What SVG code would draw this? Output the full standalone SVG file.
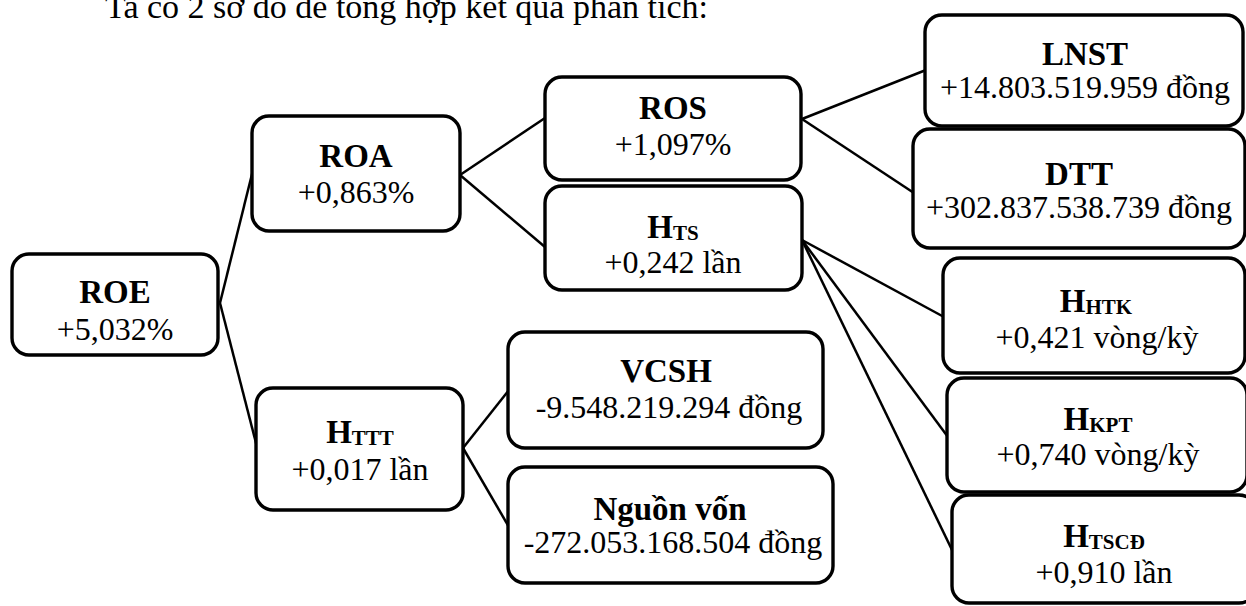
<svg xmlns="http://www.w3.org/2000/svg" width="1246" height="606" viewBox="0 0 1246 606">
<style>
.box{fill:#fff;stroke:#000;stroke-width:3.4}
.t{text-anchor:middle;fill:#000}
.h{font-size:33px;font-weight:bold}
.v{font-size:32px}
.s{font-size:21px}
.c{stroke:#000;stroke-width:2.5;fill:none}
.intro{font-size:34px;fill:#000}
</style>
<rect width="1246" height="606" fill="#fff"/>
<g font-family="'Liberation Serif', Tinos, 'Times New Roman', Times, 'DejaVu Serif', serif">
<text class="intro" x="105" y="18">Ta có 2 sơ đồ để tổng hợp kết quả phân tích:</text>
<g id="connectors">
<line class="c" x1="220" y1="303" x2="253" y2="170"/>
<line class="c" x1="220" y1="303" x2="257" y2="447"/>
<line class="c" x1="460" y1="175" x2="545" y2="118"/>
<line class="c" x1="460" y1="175" x2="545" y2="247"/>
<line class="c" x1="802" y1="119" x2="926" y2="70"/>
<line class="c" x1="802" y1="119" x2="914" y2="193"/>
<line class="c" x1="802" y1="240" x2="944" y2="317"/>
<line class="c" x1="802" y1="240" x2="948" y2="437"/>
<line class="c" x1="802" y1="240" x2="953" y2="552"/>
<line class="c" x1="463" y1="448" x2="509" y2="390"/>
<line class="c" x1="463" y1="448" x2="509" y2="527"/>
</g>
<g id="ROE">
<rect class="box" x="12" y="254" width="206" height="101" rx="17"/>
<text class="t h" x="115" y="303">ROE</text>
<text class="t v" x="115" y="340">+5,032%</text>
</g>
<g id="ROA">
<rect class="box" x="252" y="116" width="208" height="115" rx="17"/>
<text class="t h" x="356" y="167">ROA</text>
<text class="t v" x="356" y="203">+0,863%</text>
</g>
<g id="HTTT">
<rect class="box" x="256" y="388" width="207" height="122" rx="17"/>
<text class="t h" x="360" y="443">H<tspan class="s" dy="2">TTT</tspan></text>
<text class="t v" x="360" y="480">+0,017 lần</text>
</g>
<g id="ROS">
<rect class="box" x="545" y="77" width="256" height="103" rx="17"/>
<text class="t h" x="673" y="119">ROS</text>
<text class="t v" x="673" y="155">+1,097%</text>
</g>
<g id="HTS">
<rect class="box" x="545" y="186" width="257" height="104" rx="17"/>
<text class="t h" x="673" y="238">H<tspan class="s" dy="2">TS</tspan></text>
<text class="t v" x="673" y="273">+0,242 lần</text>
</g>
<g id="LNST">
<rect class="box" x="925" y="15" width="318" height="111" rx="17"/>
<text class="t h" x="1085" y="65">LNST</text>
<text class="t v" x="1085" y="98">+14.803.519.959 đồng</text>
</g>
<g id="DTT">
<rect class="box" x="913" y="129" width="332" height="119" rx="17"/>
<text class="t h" x="1079" y="185">DTT</text>
<text class="t v" x="1079" y="218">+302.837.538.739 đồng</text>
</g>
<g id="HHTK">
<rect class="box" x="943" y="258" width="302" height="115" rx="17"/>
<text class="t h" x="1096" y="312">H<tspan class="s" dy="2">HTK</tspan></text>
<text class="t v" x="1097" y="348">+0,421 vòng/kỳ</text>
</g>
<g id="HKPT">
<rect class="box" x="947" y="378" width="300" height="114" rx="17"/>
<text class="t h" x="1098" y="430">H<tspan class="s" dy="2">KPT</tspan></text>
<text class="t v" x="1098" y="465">+0,740 vòng/kỳ</text>
</g>
<g id="HTSCD">
<rect class="box" x="952" y="495" width="304" height="108" rx="17"/>
<text class="t h" x="1104" y="547">H<tspan class="s" dy="2">TSCĐ</tspan></text>
<text class="t v" x="1104" y="583">+0,910 lần</text>
</g>
<g id="VCSH">
<rect class="box" x="508" y="332" width="315" height="116" rx="17"/>
<text class="t h" x="666" y="382">VCSH</text>
<text class="t v" x="669" y="418">-9.548.219.294 đồng</text>
</g>
<g id="NguonVon">
<rect class="box" x="508" y="467" width="325" height="116" rx="17"/>
<text class="t h" x="670" y="520">Nguồn vốn</text>
<text class="t v" x="673" y="553">-272.053.168.504 đồng</text>
</g>
</g>
</svg>
